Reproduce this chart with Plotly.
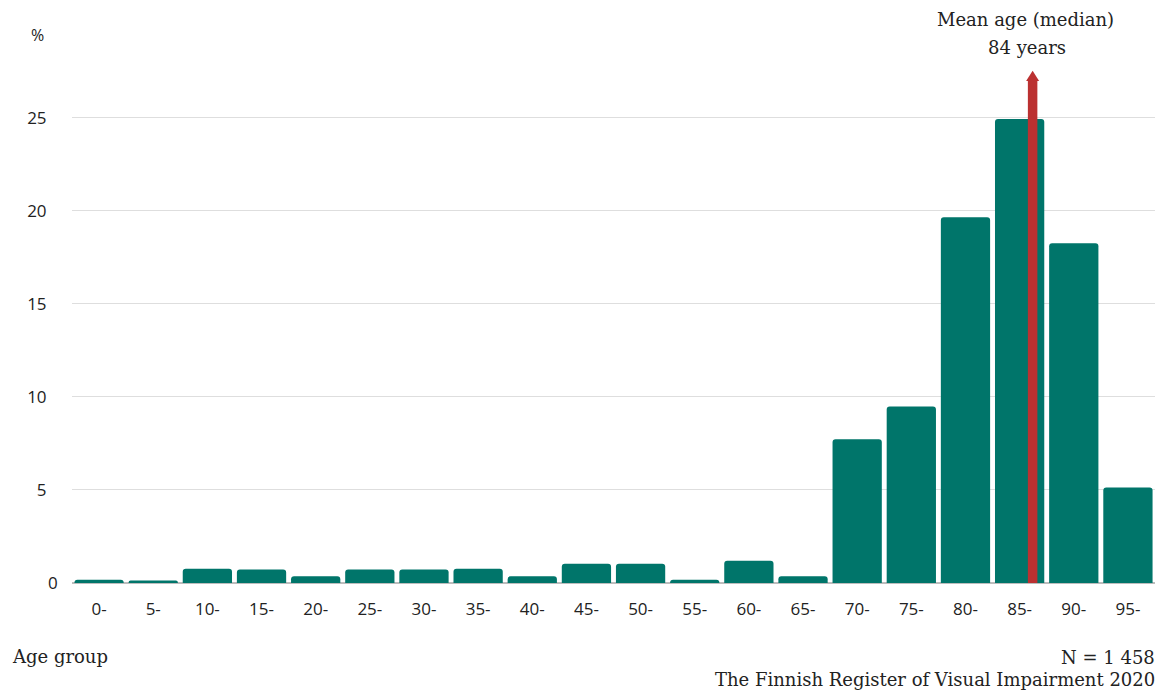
import plotly.graph_objects as go

categories = ["0-", "5-", "10-", "15-", "20-", "25-", "30-", "35-", "40-", "45-",
              "50-", "55-", "60-", "65-", "70-", "75-", "80-", "85-", "90-", "95-"]
percent = [0.18, 0.14, 0.77, 0.72, 0.36, 0.72, 0.72, 0.77, 0.36, 1.04,
           1.04, 0.18, 1.2, 0.36, 7.73, 9.48, 19.66, 24.93, 18.26, 5.13]
y_ticks = [0, 5, 10, 15, 20, 25]
median_pos = 17.24   # position of median marker on category axis
arrow_top = 27.53

BAR = "#00756a"
RED = "#bb3131"
SERIF = "DejaVu Serif"
SANS = "Open Sans"

fig = go.Figure()
fig.add_trace(go.Bar(x=categories, y=percent, marker=dict(color=BAR, line=dict(width=0)),
                     hoverinfo="x+y"))

# median arrow
fig.add_shape(type="line", xref="x", yref="y", x0=median_pos, x1=median_pos,
              y0=0, y1=arrow_top - 0.45, line=dict(color=RED, width=9.5), layer="above")
fig.add_shape(type="path", xref="x", yref="y",
              path=f"M {median_pos-0.12},{arrow_top-0.55} L {median_pos+0.12},{arrow_top-0.55} L {median_pos},{arrow_top} Z",
              fillcolor=RED, line=dict(color=RED, width=0), layer="above")

fig.update_layout(
    width=1166, height=695,
    margin=dict(l=72, r=11, t=62, b=112),
    plot_bgcolor="white", paper_bgcolor="white",
    bargap=0.09, barcornerradius=3,
    showlegend=False,
    font=dict(family=SANS, color="#222", size=16),
)
fig.update_xaxes(type="category", range=[-0.5, 19.5], showgrid=False,
                 ticks="outside", ticklen=11, tickcolor="rgba(0,0,0,0)",
                 tickfont=dict(family=SANS, size=17, color="#222"),
                 showline=False, zeroline=False, fixedrange=True)
fig.update_yaxes(range=[0, 28], tickvals=y_ticks,
                 ticktext=["" if v == 0 else str(v) for v in y_ticks],
                 showgrid=True, gridcolor="#dedede", gridwidth=1,
                 zeroline=True, zerolinecolor="#bdbdbd", zerolinewidth=1.5,
                 ticks="outside", ticklen=21, tickcolor="rgba(0,0,0,0)",
                 tickfont=dict(family=SANS, size=17, color="#222"),
                 showline=False, fixedrange=True)

ann = [
    dict(text="%", x=37, y=35, font=dict(family=SANS, size=16)),
    dict(text=str(y_ticks[0]), x=53, y=583, font=dict(family=SANS, size=17)),
    dict(text="Mean age (median)", x=1025, y=19, font=dict(family=SERIF, size=18)),
    dict(text="84 years", x=1027, y=47, font=dict(family=SERIF, size=18)),
]
for a in ann:
    fig.add_annotation(text=a["text"], xref="paper", yref="paper",
                       x=(a["x"] - 72) / 1083, y=(583.3 - a["y"]) / 521.4,
                       xanchor="center", yanchor="middle", showarrow=False,
                       font=dict(color="#222", **a["font"]))

fig.add_annotation(text="Age group", xref="paper", yref="paper",
                   x=(10 - 72) / 1083, y=(583.3 - 657) / 521.4, xanchor="left", yanchor="middle",
                   showarrow=False, font=dict(family=SERIF, size=18, color="#222"))
fig.add_annotation(text="N = 1 458", xref="paper", yref="paper",
                   x=(1157 - 72) / 1083, y=(583.3 - 658) / 521.4, xanchor="right", yanchor="middle",
                   showarrow=False, font=dict(family=SERIF, size=18, color="#222"))
fig.add_annotation(text="The Finnish Register of Visual Impairment 2020", xref="paper", yref="paper",
                   x=(1157 - 72) / 1083, y=(583.3 - 680) / 521.4, xanchor="right", yanchor="middle",
                   showarrow=False, font=dict(family=SERIF, size=18, color="#222"))

fig.write_html("out.html", config={"displayModeBar": False},
               post_script="document.body.style.margin='0';document.body.style.overflow='hidden';")
